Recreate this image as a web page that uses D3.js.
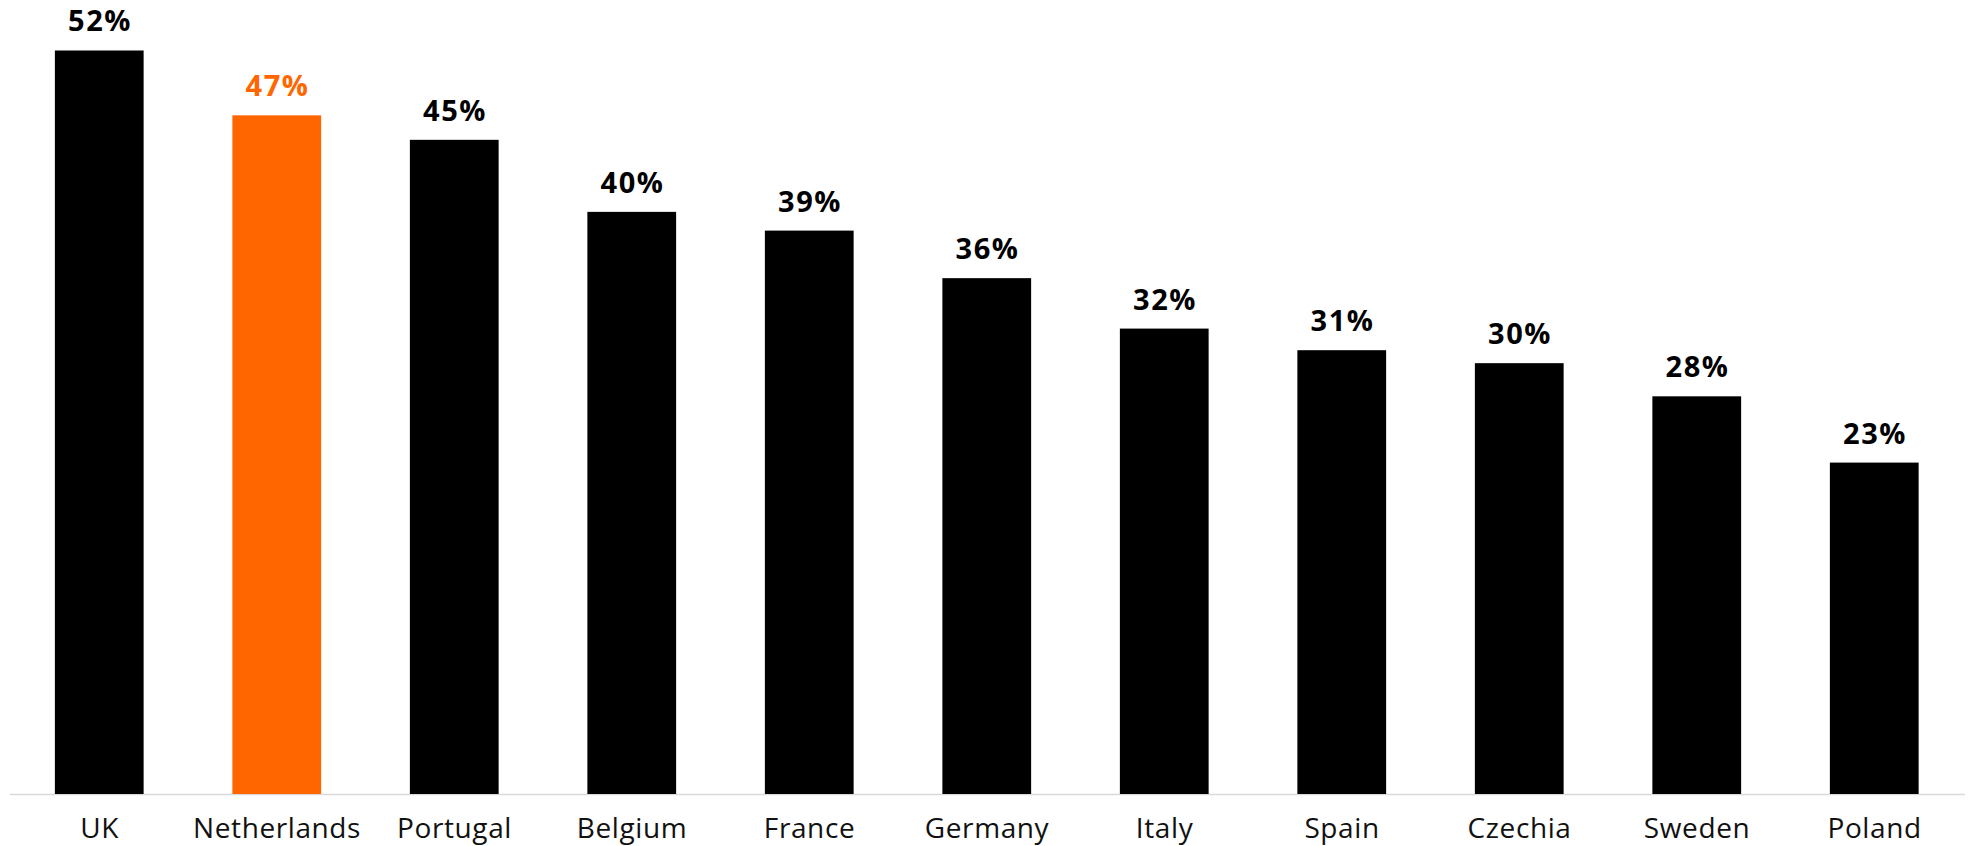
<!DOCTYPE html>
<html>
<head>
<meta charset="utf-8">
<script src="https://cdn.jsdelivr.net/npm/d3@7"></script>
<style>
  html, body { margin: 0; padding: 0; background: #fff; }
  svg { display: block; }
  .value { font-family: "Open Sans", sans-serif; font-weight: 700; font-size: 29px; letter-spacing: 1.5px; }
  .category { font-family: "Open Sans", sans-serif; font-size: 28px; letter-spacing: 0.6px; fill: #111; }
</style>
</head>
<body>
<script>
const countries = ["UK", "Netherlands", "Portugal", "Belgium", "France", "Germany", "Italy", "Spain", "Czechia", "Sweden", "Poland"];
const shares = [51.6, 47.1, 45.4, 40.4, 39.1, 35.8, 32.3, 30.8, 29.9, 27.6, 23.0];
const highlight = "Netherlands";

const width = 1968;
const height = 846;
const baseline = 794;
const black = "#000000";
const orange = "#ff6600";

const data = countries.map(function (c, i) {
  return { country: c, value: shares[i] };
});

const x = d3
  .scaleBand()
  .domain(countries)
  .range([10.5, 1963])
  .paddingInner(0.5)
  .paddingOuter(0.25);

const y = d3.scaleLinear().domain([0, 55]).range([baseline, 1.5]);

const svg = d3
  .select("body")
  .append("svg")
  .attr("width", width)
  .attr("height", height);

svg
  .append("line")
  .attr("x1", 10)
  .attr("x2", 1965)
  .attr("y1", baseline + 0.5)
  .attr("y2", baseline + 0.5)
  .attr("stroke", "#d9d9d9")
  .attr("stroke-width", 1.5);

svg
  .selectAll(".bar")
  .data(data)
  .enter()
  .append("rect")
  .attr("class", "bar")
  .attr("x", function (d) {
    return x(d.country);
  })
  .attr("y", function (d) {
    return y(d.value);
  })
  .attr("width", x.bandwidth())
  .attr("height", function (d) {
    return baseline - y(d.value);
  })
  .attr("fill", function (d) {
    return d.country === highlight ? orange : black;
  });

// letter-spacing adds trailing space, so nudge labels by half of it
svg
  .selectAll(".value")
  .data(data)
  .enter()
  .append("text")
  .attr("class", "value")
  .attr("x", function (d) {
    return x(d.country) + x.bandwidth() / 2 + 0.75;
  })
  .attr("y", function (d) {
    return y(d.value) - 19;
  })
  .attr("text-anchor", "middle")
  .attr("fill", function (d) {
    return d.country === highlight ? orange : black;
  })
  .text(function (d) {
    return Math.round(d.value) + "%";
  });

svg
  .selectAll(".category")
  .data(data)
  .enter()
  .append("text")
  .attr("class", "category")
  .attr("x", function (d) {
    return x(d.country) + x.bandwidth() / 2 + 0.3;
  })
  .attr("y", 838)
  .attr("text-anchor", "middle")
  .text(function (d) {
    return d.country;
  });
</script>
</body>
</html>
